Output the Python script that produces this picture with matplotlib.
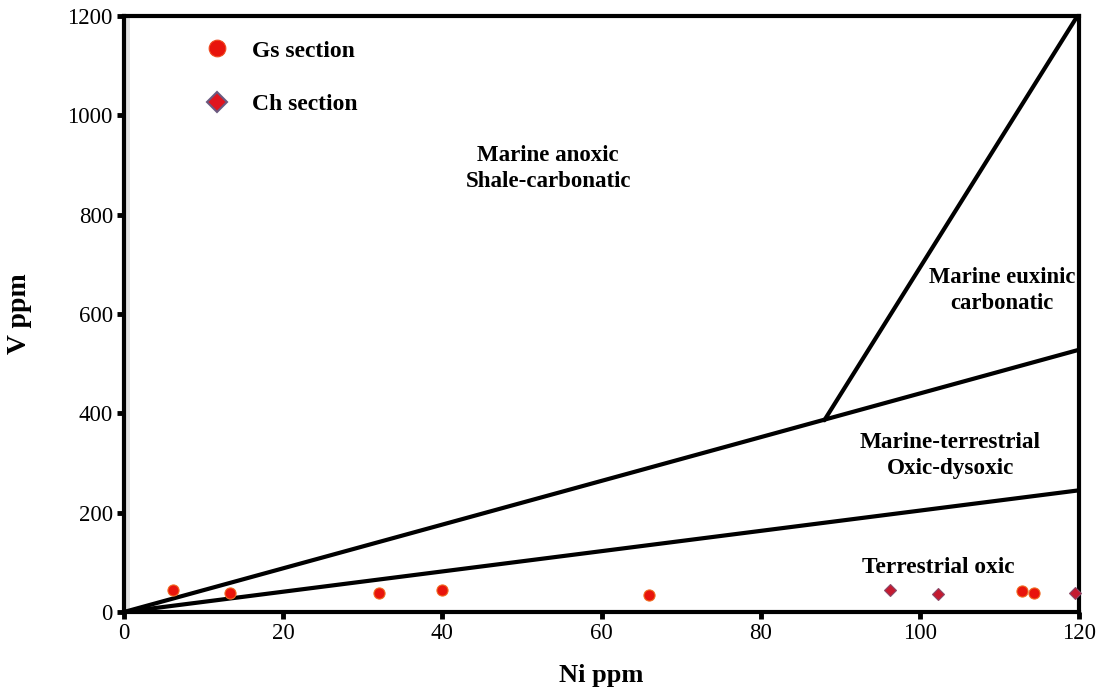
import matplotlib
matplotlib.use("Agg")
import matplotlib.pyplot as plt
from matplotlib.lines import Line2D

# ---- data ----
gs_ni = [6.2, 13.3, 32.0, 40.0, 66.0, 112.8, 114.3]
gs_v = [44, 38, 38, 44, 35, 43, 38]
ch_ni = [96.2, 102.3, 119.5]
ch_v = [44, 36, 38]

# boundary lines (Ni, V)
line_low_ni = [0, 120]
line_low_v = [0, 245]
line_mid_ni = [0, 120]
line_mid_v = [0, 528]
line_up_ni = [88.0, 120]
line_up_v = [386, 1205]

region_labels = ["Marine anoxic\nShale-carbonatic", "Marine euxinic\ncarbonatic",
                 "Marine-terrestrial\nOxic-dysoxic", "Terrestrial oxic"]
region_x = [53.3, 110.3, 103.8, 102.3]
region_y = [893, 648, 315, 90]
region_size = [16.5, 16.3, 16.7, 16.8]

xticks = [0, 20, 40, 60, 80, 100, 120]
yticks = [0, 200, 400, 600, 800, 1000, 1200]

plt.rcParams['font.family'] = ['Liberation Serif', 'DejaVu Serif']

fig = plt.figure(figsize=(10.96, 6.88), dpi=100)
ax = fig.add_axes([124/1096, 1-612/688, (1079-124)/1096, (612-16)/688])
ax.set_xlim(0, 120)
ax.set_ylim(0, 1200)

ax.axvspan(0, 0.7, color='#e2e2e2', zorder=0, lw=0)

for xs, ys in [(line_low_ni, line_low_v), (line_mid_ni, line_mid_v), (line_up_ni, line_up_v)]:
    ax.plot(xs, ys, color='black', lw=3, solid_capstyle='round', zorder=2)

ax.plot(gs_ni, gs_v, 'o', ms=8, mfc='#e8140c', mec='#f06a20', mew=0.8, ls='none', zorder=3, clip_on=False)
ax.plot(ch_ni, ch_v, 'D', ms=6.5, mfc='#c41a30', mec='#8a4a6a', mew=0.8, ls='none', zorder=3, clip_on=False)

for t, x, y, fs in zip(region_labels, region_x, region_y, region_size):
    ax.text(x, y, t, ha='center', va='center', fontsize=fs, fontweight='bold',
            linespacing=1.3, zorder=4)

for s in ax.spines.values():
    s.set_linewidth(3)
ax.set_xticks(xticks)
ax.set_yticks(yticks)
ax.tick_params(axis='both', direction='out', length=5, width=3.5, labelsize=16.5, pad=3)

ax.set_xlabel('Ni ppm', fontsize=19, fontweight='bold', labelpad=14)
ax.set_ylabel('V ppm', fontsize=20, fontweight='bold')
ax.yaxis.set_label_coords(-0.096, 0.5)

handles = [Line2D([], [], marker='o', ls='none', ms=12, mfc='#e8140c', mec='#f04a20', mew=0.8),
           Line2D([], [], marker='D', ls='none', ms=10, mfc='#e0141e', mec='#6a5a80', mew=1.5)]
leg = ax.legend(handles, ['Gs section', 'Ch section'], loc='upper left',
                bbox_to_anchor=(0.05, 0.995), frameon=False, labelspacing=1.35,
                handletextpad=0.5, prop={'weight': 'bold', 'size': 17})

fig.savefig('out.png', dpi=100)
